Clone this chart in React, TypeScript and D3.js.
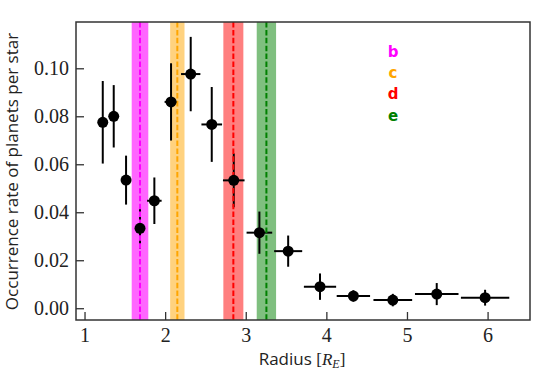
import React from "react";
import * as d3 from "d3";

const radius = [1.22, 1.356, 1.509, 1.682, 1.86, 2.067, 2.311, 2.572, 2.845, 3.163, 3.52, 3.915, 4.329, 4.818, 5.363, 5.963];
const radiusErr = [0.03, 0.03, 0.04, 0.05, 0.09, 0.08, 0.12, 0.128, 0.134, 0.159, 0.174, 0.2, 0.207, 0.24, 0.27, 0.3];
const rate = [0.0777, 0.0802, 0.0536, 0.0335, 0.045, 0.0862, 0.0978, 0.0768, 0.0535, 0.0317, 0.024, 0.0092, 0.0053, 0.0036, 0.0061, 0.0046];
const rateErr = [0.0172, 0.013, 0.0102, 0.0085, 0.0097, 0.0161, 0.0155, 0.0156, 0.0112, 0.0088, 0.0065, 0.0055, 0.0024, 0.0026, 0.0046, 0.0033];

const planetNames = ["b", "c", "d", "e"];
const planetRadius = [1.682, 2.145, 2.84, 3.25];
const planetRadiusErr = [0.103, 0.089, 0.124, 0.12];
const planetColors = ["#ff00ff", "#ffa500", "#ff0000", "#008000"];

const xTicks = [1, 2, 3, 4, 5, 6];
const yTicks = [0.0, 0.02, 0.04, 0.06, 0.08, 0.1];

const W = 543, H = 379;
const left = 76, right = 530, top = 22, bottom = 320;

export default function App() {
  const x = d3.scaleLinear().domain([0.888, 6.52]).range([left, right]);
  const y = d3.scaleLinear().domain([-0.0047, 0.1195]).range([bottom, top]);
  const axisColor = "#333";
  return (
    <svg width={W} height={H} style={{ position: "absolute", left: 0, top: 0, background: "#fff" }}>
      <g fontFamily="Liberation Serif" fontSize={20} fill="#222">
        {xTicks.map((t) => (
          <text key={"xl" + t} x={x(t)} y={bottom + 22} textAnchor="middle">{t}</text>
        ))}
        {yTicks.map((t) => (
          <text key={"yl" + t} x={left - 7} y={y(t) + 6} textAnchor="end">{t.toFixed(2)}</text>
        ))}
      </g>
      <defs>
        <clipPath id="plotclip">
          <rect x={left} y={top} width={right - left} height={bottom - top} />
        </clipPath>
      </defs>
      <g clipPath="url(#plotclip)">
        {planetRadius.map((r, i) => (
          <rect key={"band" + i} x={x(r - planetRadiusErr[i])} y={top} width={x(r + planetRadiusErr[i]) - x(r - planetRadiusErr[i])} height={bottom - top} fill={planetColors[i]} fillOpacity={i === 0 ? 0.6 : 0.5} />
        ))}
        {radius.map((r, i) => (
          <g key={"err" + i} stroke="#000" strokeWidth={2}>
            <line x1={x(r)} x2={x(r)} y1={y(rate[i] - rateErr[i])} y2={y(rate[i] + rateErr[i])} />
            <line x1={x(r - radiusErr[i])} x2={x(r + radiusErr[i])} y1={y(rate[i])} y2={y(rate[i])} />
          </g>
        ))}
        {planetRadius.map((r, i) => (
          <line key={"dash" + i} x1={x(r)} x2={x(r)} y1={top} y2={bottom} stroke={planetColors[i]} strokeWidth={2} strokeDasharray="5.5 2.4" />
        ))}
        {radius.map((r, i) => (
          <circle key={"pt" + i} cx={x(r)} cy={y(rate[i])} r={5.5} fill="#000" />
        ))}
      </g>
      {xTicks.map((t) => (
        <line key={"xt" + t} x1={x(t)} x2={x(t)} y1={bottom} y2={bottom - 8} stroke={axisColor} strokeWidth={1.3} />
      ))}
      {yTicks.map((t) => (
        <line key={"yt" + t} x1={left} x2={left + 8} y1={y(t)} y2={y(t)} stroke={axisColor} strokeWidth={1.3} />
      ))}
      <rect x={left} y={top} width={right - left} height={bottom - top} fill="none" stroke={axisColor} strokeWidth={1.5} />
      {planetNames.map((n, i) => (
        <text key={"lbl" + n} x={393} y={57 + i * 21.2} textAnchor="middle" fontFamily="DejaVu Sans" fontWeight="bold" fontSize={15} fill={planetColors[i]}>{n}</text>
      ))}
      <text transform={`translate(18, ${(23 + 320) / 2}) rotate(-90)`} textAnchor="middle" fontFamily="Open Sans" fontSize={17} fill="#222">Occurrence rate of planets per star</text>
      <text x={302} y={365} textAnchor="middle" fill="#222" fontSize={17}>
        <tspan fontFamily="Open Sans">Radius </tspan>
        <tspan fontFamily="Liberation Serif">[</tspan>
        <tspan fontFamily="Liberation Serif" fontStyle="italic">R</tspan>
        <tspan fontFamily="Liberation Serif" fontStyle="italic" fontSize={12} dy={3}>E</tspan>
        <tspan fontFamily="Liberation Serif" dy={-3}>]</tspan>
      </text>
    </svg>
  );
}
